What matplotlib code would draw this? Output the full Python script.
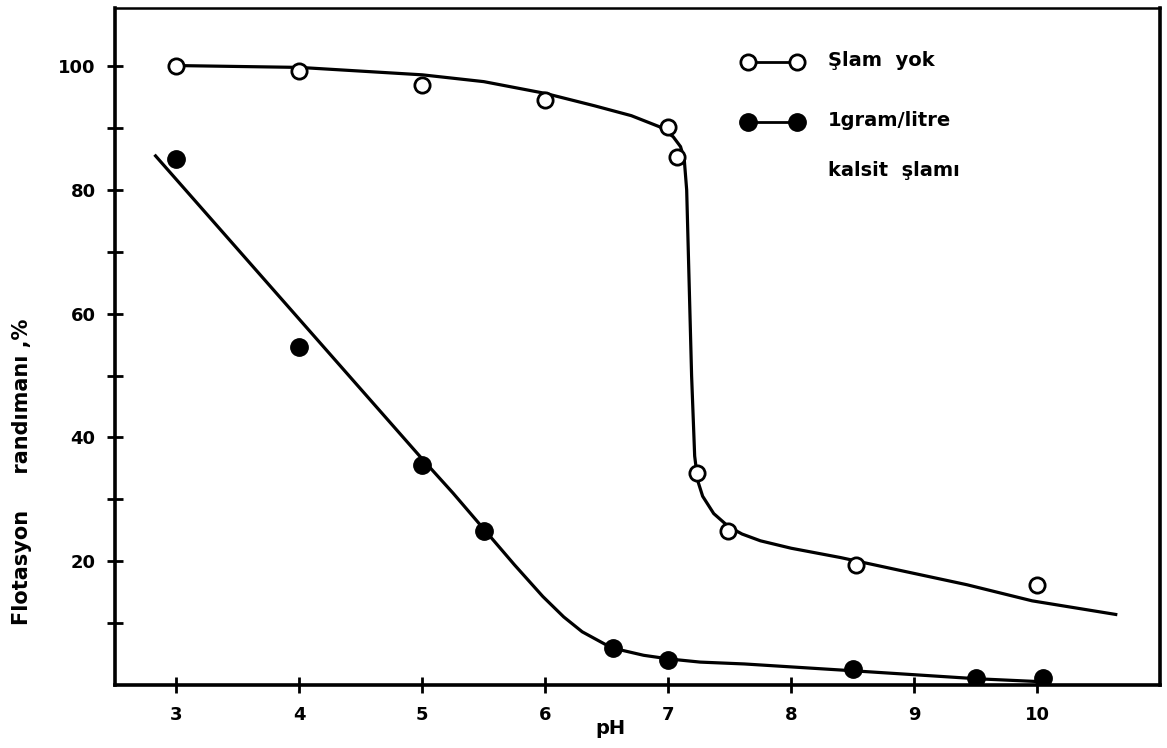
import matplotlib
matplotlib.use("Agg")
import matplotlib.pyplot as plt
from matplotlib.ticker import FixedLocator

plt.rcParams['font.family'] = ['DejaVu Sans']

# measured points
ph_open = [3.0, 4.0, 5.0, 6.0, 7.0, 7.07, 7.23, 7.49, 8.53, 10.0]
rec_open = [100.0, 99.3, 96.9, 94.5, 90.2, 85.3, 34.3, 24.9, 19.4, 16.1]

ph_fill = [3.0, 4.0, 5.0, 5.5, 6.55, 7.0, 8.5, 9.5, 10.05]
rec_fill = [85.0, 54.7, 35.6, 24.9, 6.0, 4.0, 2.6, 1.2, 1.1]

# hand-drawn fit curves
curve_open_x = [3.0, 4.0, 5.0, 5.5, 6.0, 6.4, 6.7, 6.93, 7.04, 7.1, 7.13, 7.15, 7.19, 7.215,
                7.24, 7.28, 7.37, 7.49, 7.6, 7.75, 8.0, 8.4, 8.89, 9.43, 9.96, 10.64]
curve_open_y = [100.1, 99.8, 98.6, 97.5, 95.6, 93.6, 92.0, 90.2, 88.6, 87.0, 85.0, 80.0, 50.0, 37.0,
                33.0, 30.5, 27.7, 25.6, 24.4, 23.3, 22.1, 20.6, 18.5, 16.2, 13.6, 11.4]

curve_fill_x = [2.83, 5.0, 5.25, 5.5, 5.75, 5.98, 6.15, 6.3, 6.54, 6.8, 7.01, 7.26, 7.62,
                8.5, 9.52, 10.07]
curve_fill_y = [85.5, 36.5, 31.0, 25.2, 19.4, 14.3, 11.0, 8.6, 6.0, 4.8, 4.2, 3.7, 3.4,
                2.3, 1.0, 0.5]

x_ticks = [3, 4, 5, 6, 7, 8, 9, 10]
y_label_ticks = [20, 40, 60, 80, 100]
y_minor_ticks = [10, 30, 50, 70, 90]

legend_labels = ["Şlam  yok", "1gram/litre", "kalsit  şlamı"]

fig = plt.figure(figsize=(11.67, 7.48), dpi=100)
ax = fig.add_axes([115/1167, 1-685/748, (1160-115)/1167, (685-8)/748])

ax.plot(curve_open_x, curve_open_y, color='black', lw=2.3, solid_joinstyle='round')
ax.plot(curve_fill_x, curve_fill_y, color='black', lw=2.3, solid_joinstyle='round')
ax.plot(ph_open, rec_open, 'o', ms=11, mfc='white', mec='black', mew=2, zorder=3)
ax.plot(ph_fill, rec_fill, 'o', ms=12.5, mfc='black', mec='black', zorder=3)

ax.set_xlim(2.5, 11)
ax.set_ylim(0, 109.4)
ax.xaxis.set_major_locator(FixedLocator(x_ticks))
ax.yaxis.set_major_locator(FixedLocator(y_label_ticks))
ax.yaxis.set_minor_locator(FixedLocator(y_minor_ticks))
ax.tick_params(axis='both', which='both', direction='inout', length=12, width=2, color='black')
ax.tick_params(axis='x', pad=9, labelsize=13)
ax.tick_params(axis='y', pad=8, labelsize=13)
for lab in ax.get_xticklabels() + ax.get_yticklabels():
    lab.set_fontweight('bold')

for s in ['left', 'bottom', 'right']:
    ax.spines[s].set_linewidth(2.6)
ax.spines['top'].set_linewidth(1.8)

# legend drawn manually in axes coordinates
lx1, lx2 = (748-115)/1045, (797-115)/1045
ty = lambda py: 1-(py-8)/677
ax.plot([lx1, lx2], [ty(62), ty(62)], transform=ax.transAxes, color='black', lw=2)
ax.plot([lx1, lx2], [ty(62), ty(62)], 'o', transform=ax.transAxes, ms=11, mfc='white', mec='black', mew=2)
ax.plot([lx1, lx2], [ty(122), ty(122)], transform=ax.transAxes, color='black', lw=2)
ax.plot([lx1, lx2], [ty(122), ty(122)], 'o', transform=ax.transAxes, ms=12.5, mfc='black', mec='black')
tx = (828-115)/1045
ax.text(tx, ty(60), legend_labels[0], transform=ax.transAxes, fontsize=14, fontweight='bold', va='center')
ax.text(tx, ty(120), legend_labels[1], transform=ax.transAxes, fontsize=14, fontweight='bold', va='center')
ax.text(tx, ty(170), legend_labels[2], transform=ax.transAxes, fontsize=14, fontweight='bold', va='center')

fig.text(22/1167, 1-472/748, "Flotasyon     randımanı ,%", rotation=90, fontsize=15,
         fontweight='bold', ha='center', va='center')
fig.text(610/1167, 1-728/748, "pH", fontsize=14, fontweight='bold', ha='center', va='center')

fig.savefig("out.png", dpi=100)
